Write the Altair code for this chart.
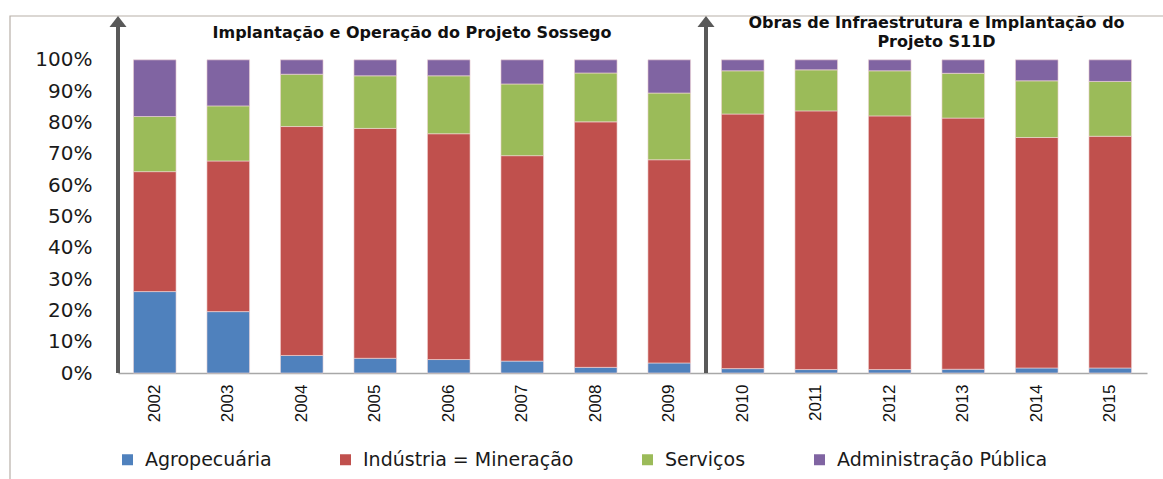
import altair as alt
import pandas as pd

years = [str(y) for y in range(2002, 2016)]
agro = [26.0, 19.6, 5.6, 4.7, 4.3, 3.8, 1.8, 3.2, 1.4, 1.1, 1.1, 1.2, 1.6, 1.6]
ind = [38.3, 48.1, 73.1, 73.4, 72.1, 65.6, 78.4, 64.9, 81.3, 82.6, 81.0, 80.2, 73.6, 74.0]
serv = [17.6, 17.6, 16.7, 16.8, 18.5, 22.9, 15.6, 21.3, 13.8, 13.1, 14.4, 14.3, 18.1, 17.5]
adm = [18.1, 14.7, 4.6, 5.1, 5.1, 7.7, 4.2, 10.6, 3.5, 3.2, 3.5, 4.3, 6.7, 6.9]
series = ["Agropecuária", "Indústria = Mineração", "Serviços", "Administração Pública"]
colors = ["#4F81BD", "#C0504D", "#9BBB59", "#8064A2"]
y_ticks = [0, 0.1, 0.2, 0.3, 0.4, 0.5, 0.6, 0.7, 0.8, 0.9, 1.0]

# phase annotations
arrow_years = ["2002", "2010"]
title1 = "Implantação e Operação do Projeto Sossego"
title2 = ["Obras de Infraestrutura e Implantação do", "Projeto S11D"]

rows = []
for i, y in enumerate(years):
    for k, (s, vals) in enumerate(zip(series, [agro, ind, serv, adm])):
        rows.append({"year": y, "serie": s, "value": vals[i] / 100.0, "ord": k})
df = pd.DataFrame(rows)

W = 1029
P_IN = 0.42
STEP = W / len(years)
OFF = -P_IN * STEP / 2  # shift from bar start to the step boundary
xscale = alt.Scale(domain=years, paddingInner=P_IN, paddingOuter=P_IN / 2)
yscale = alt.Scale(domain=[0, 1.14], nice=False, zero=True)

xaxis = alt.Axis(title=None, labelAngle=-90, labelAlign="right", labelBaseline="middle",
                 labelFont="Liberation Sans", labelFontSize=17, labelColor="#111111",
                 labelPadding=11, ticks=False, domainColor="#a8a8a8", domainWidth=1.5)
yaxis = alt.Axis(title=None, values=y_ticks, format=".0%", grid=False, ticks=False,
                 domain=False, labelFont="DejaVu Sans", labelFontSize=20,
                 labelColor="#1a1a1a", labelPadding=26, labelOverlap=False)

frame = alt.Chart(pd.DataFrame({"a": [0]})).mark_rect(
    fill=None, stroke="#b8b0a8", strokeWidth=1.2, clip=False
).encode(
    x=alt.value(-108), x2=alt.value(1060), y=alt.value(0), y2=alt.value(500)
)

bars = alt.Chart(df).mark_bar(stroke="#f3d9d9", strokeWidth=0.6).encode(
    x=alt.X("year:N", scale=xscale, sort=years, axis=xaxis),
    y=alt.Y("value:Q", stack="zero", scale=yscale, axis=yaxis),
    color=alt.Color("serie:N", scale=alt.Scale(domain=series, range=colors),
                    legend=alt.Legend(orient="none", legendX=0, legendY=434, direction="horizontal",
                                      title=None, symbolType="square", symbolSize=121,
                                      symbolStrokeWidth=0, labelFont="DejaVu Sans",
                                      labelFontSize=19, labelColor="#1a1a1a", labelLimit=400,
                                      columnPadding=64, labelOffset=8)),
    order=alt.Order("ord:Q", sort="ascending"),
)

arr_df = pd.DataFrame({"year": arrow_years, "y0": [0.0, 0.0], "y1": [1.12, 1.12], "tip": [1.1224, 1.1224]})
rules = alt.Chart(arr_df).mark_rule(color="#595959", strokeWidth=4, xOffset=OFF).encode(
    x=alt.X("year:N", scale=xscale, bandPosition=0, axis=xaxis),
    y=alt.Y("y0:Q", scale=yscale, axis=yaxis),
    y2="y1:Q",
)
heads = alt.Chart(arr_df).mark_point(
    shape="M0,-0.65L1,0.65L-1,0.65Z", size=289, filled=True, color="#595959", opacity=1, xOffset=OFF
).encode(
    x=alt.X("year:N", scale=xscale, bandPosition=0, axis=xaxis),
    y=alt.Y("tip:Q", scale=yscale, axis=yaxis),
)

t1 = alt.Chart(pd.DataFrame({"year": ["2006"], "y": [1.086], "t": [title1]})).mark_text(
    font="DejaVu Sans", fontWeight="bold", fontSize=16, align="center", baseline="middle",
    color="#111111", dx=OFF
).encode(x=alt.X("year:N", scale=xscale, bandPosition=0, axis=xaxis),
         y=alt.Y("y:Q", scale=yscale, axis=yaxis), text="t:N")

t2 = alt.Chart(pd.DataFrame({"year": ["2013", "2013"], "y": [1.119, 1.058], "t": title2})).mark_text(
    font="DejaVu Sans", fontWeight="bold", fontSize=16, align="center", baseline="middle",
    color="#111111", dx=OFF + 10
).encode(x=alt.X("year:N", scale=xscale, bandPosition=0, axis=xaxis),
         y=alt.Y("y:Q", scale=yscale, axis=yaxis), text="t:N")

chart = alt.layer(frame, bars, rules, heads, t1, t2).properties(
    width=W, height=357,
    padding={"left": 118, "top": 16, "right": 16, "bottom": 106},
    autosize=alt.AutoSizeParams(type="none"),
    background="white",
).configure_view(stroke=None)

chart.save("out.html", embed_options={"renderer": "svg", "actions": False})
